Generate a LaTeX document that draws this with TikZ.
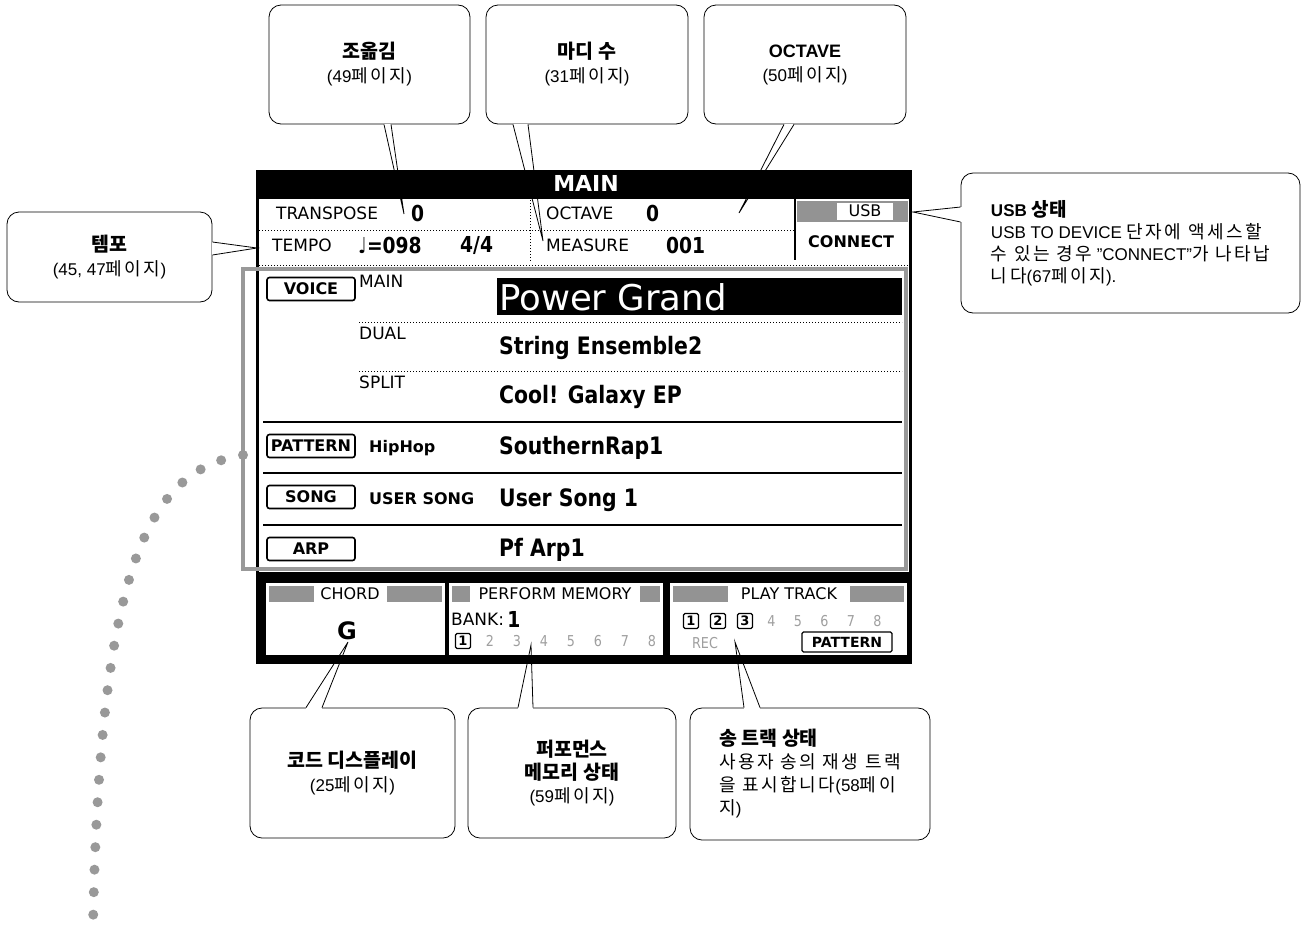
\documentclass[tikz,border=0pt]{standalone}
\usepackage{fontspec}
\setmainfont{Liberation Sans}
\newfontfamily\kr[Scale=1.06,LetterSpace=14]{Noto Sans CJK KR}
\newfontfamily\krh{Noto Sans CJK KR}
\newfontfamily\lcd[FakeStretch=0.85]{DejaVu Sans}
\newfontfamily\lcdwide{DejaVu Sans}
\newcommand{\hd}[1]{{\fontsize{19.5}{25}\selectfont\krh\bfseries #1}}
\newcommand{\hg}[1]{{\kr #1}}
\usetikzlibrary{calc,positioning}

\begin{document}
\begin{tikzpicture}[
    x=1pt, y=-1pt,
    callout/.style={draw, line width=0.8pt, rounded corners=12pt, fill=white,
      align=center, inner sep=0pt, font=\fontsize{17}{24}\selectfont},
    callline/.style={draw, line width=0.8pt},
    callgap/.style={draw=white, line width=1.8pt},
    lcdlabel/.style={anchor=west, inner sep=0pt, font=\lcdwide\fontsize{17}{17}\selectfont},
    lcdvalue/.style={anchor=west, inner sep=0pt, font=\lcd\bfseries\fontsize{22}{22}\selectfont},
    lcdtag/.style={anchor=west, inner sep=0pt, font=\lcdwide\bfseries\fontsize{16}{16}\selectfont},
    lcdbutton/.style={draw, line width=1.6pt, rounded corners=2.5pt, minimum width=88pt,
      minimum height=23pt, inner sep=0pt, font=\lcdwide\bfseries\fontsize{16}{16}\selectfont},
    voicename/.style={anchor=west, inner sep=0pt, font=\lcd\bfseries\fontsize{24}{24}\selectfont},
    headlabel/.style={fill=white, inner sep=0pt, minimum height=17pt, font=\lcdwide\fontsize{16}{16}\selectfont},
    dither/.style={fill=gray!85},
    dimdigit/.style={inner sep=0pt, text=gray!75, font=\lcd\fontsize{15}{15}\selectfont},
    boxdigit/.style={draw, line width=1.3pt, rounded corners=1.5pt, minimum size=15pt,
      inner sep=0pt, font=\lcdwide\bfseries\fontsize{13}{13}\selectfont},
    dotline/.style={dotted, line width=1pt},
    rowrule/.style={line width=2pt},
    arcdots/.style={draw=gray!80, line width=10pt, line cap=round, dash pattern=on 0pt off 22.5pt}
  ]
  \useasboundingbox (0,0) rectangle (1305,929);

  % LCD frame and info rows
  \fill[black] (256,170) rectangle (912,664);
  \fill[white] (259,199) rectangle (909,572);
  \node[text=white, inner sep=0pt, font=\lcdwide\bfseries\fontsize{22}{22}\selectfont] (title) at (586,183) {MAIN};
  \draw[dotline] (259,230) -- (795,230);
  \draw[dotline] (530,200) -- (530,262);
  \draw[line width=1.5pt] (795,199) -- (795,260);
  \draw[dotline] (259,265) -- (909,265);
  \fill[dither] (797,201) rectangle (908,222);
  \node[headlabel, minimum width=56pt] (usbHead) at (865,211) {USB};
  \node[lcdtag] (connect) at (808,242) {CONNECT};
  \node[lcdlabel] (transposeLbl) at (276,213) {TRANSPOSE};
  \node[lcdvalue] (transposeVal) at (411,213) {0};
  \node[lcdlabel] (tempoLbl) at (272,245) {TEMPO};
  \node[lcdvalue] (tempoVal) at (358,245) {♩=098};
  \node[lcdvalue] (meterVal) at (460,245) {4/4};
  \node[lcdlabel] (octaveLbl) at (546,213) {OCTAVE};
  \node[lcdvalue] (octaveVal) at (646,213) {0};
  \node[lcdlabel] (measureLbl) at (546,245) {MEASURE};
  \node[lcdvalue] (measureVal) at (666,245) {001};

  % voice / pattern / song / arp rows
  \node[lcdbutton] (voiceBtn) at (311,289) {VOICE};
  \node[lcdlabel, anchor=north west] (mainLbl) at (359,275) {MAIN};
  \fill (497,278) rectangle (902,315);
  \node[anchor=west, inner sep=0pt, text=white, font=\lcdwide\fontsize{35.5}{35.5}\selectfont] (mainVoice) at (499,297) {Power Grand};
  \draw[dotline] (359,322) -- (902,322);
  \node[lcdlabel, anchor=north west] (dualLbl) at (359,327) {DUAL};
  \node[voicename] (dualVoice) at (499,348) {String Ensemble2};
  \draw[dotline] (359,371) -- (902,371);
  \node[lcdlabel, anchor=north west] (splitLbl) at (359,376) {SPLIT};
  \node[voicename] (splitVoice) at (499,397) {Cool! Galaxy EP};
  \draw[rowrule] (263,422) -- (902,422);
  \node[lcdbutton] (patternBtn) at (311,446) {PATTERN};
  \node[lcdtag] (styleName) at (369,448) {HipHop};
  \node[voicename] (patternName) at (499,448) {SouthernRap1};
  \draw[rowrule] (263,473) -- (902,473);
  \node[lcdbutton] (songBtn) at (311,497) {SONG};
  \node[lcdtag] (songBank) at (369,499) {USER SONG};
  \node[voicename] (songName) at (499,500) {User Song 1};
  \draw[rowrule] (263,525) -- (902,525);
  \node[lcdbutton] (arpBtn) at (311,549) {ARP};
  \node[voicename] (arpName) at (499,550) {Pf Arp1};
  \draw[draw=gray!80, line width=4pt] (243,269) rectangle (906,569);

  % chord / perform memory / play track
  \fill[white] (266,583) rectangle (445,655);
  \fill[white] (449,583) rectangle (663,655);
  \fill[white] (670,583) rectangle (907,655);
  \fill[dither] (269,586) rectangle (442,602);
  \fill[dither] (452,586) rectangle (660,602);
  \fill[dither] (673,586) rectangle (904,602);
  \node[headlabel, minimum width=73pt] (chordHead) at (350,594) {CHORD};
  \node[headlabel, minimum width=170pt] (memHead) at (555,594) {PERFORM MEMORY};
  \node[headlabel, minimum width=122pt] (trackHead) at (789,594) {PLAY TRACK};
  \node[inner sep=0pt, font=\lcdwide\bfseries\fontsize{24}{24}\selectfont] (chordName) at (347,631) {G};
  \node[lcdlabel] (bankLbl) at (451,619) {BANK:};
  \node[lcdvalue, right=3pt of bankLbl] (bankNo) {1};
  \node[boxdigit] (mem1) at (463,641) {1};
  \foreach \d in {2,...,8}
    \node[dimdigit] (mem\d) at (463+27*\d-27,641) {\d};
  \foreach \d in {1,2,3}
    \node[boxdigit] (track\d) at (664+27*\d,621) {\d};
  \foreach \d in {4,...,8}
    \node[dimdigit] (track\d) at (745+26.5*\d-79.5,621) {\d};
  \node[dimdigit] (rec) at (705,643) {REC};
  \node[boxdigit, minimum width=90pt, minimum height=20pt, font=\lcdwide\bfseries\fontsize{14}{14}\selectfont] (trackMode) at (847,642) {PATTERN};

  % dotted arc to the panel
  \draw[arcdots] (243,455) .. controls (150,470) and (100,560) .. (93,926);

  % callouts
  \node[callout, minimum width=201pt, minimum height=119pt] (transpose) at (369.5,64.5)
    {\hd{조옮김}\\(49\hg{페이지})};
  \node[callout, minimum width=202pt, minimum height=119pt] (measure) at (587,64.5)
    {\hd{마디 수}\\(31\hg{페이지})};
  \node[callout, minimum width=202pt, minimum height=119pt] (octave) at (805,64.5)
    {{\fontsize{18}{24}\selectfont\bfseries OCTAVE}\\(50\hg{페이지})};
  \node[callout, minimum width=205pt, minimum height=90pt] (tempo) at (109.5,257)
    {\hd{템포}\\(45, 47\hg{페이지})};
  \node[callout, align=left, minimum width=339pt, minimum height=140pt,
    font=\fontsize{17}{22}\selectfont] (usb) at (1130.5,243)
    {{\fontsize{17}{22}\selectfont\bfseries USB {\krh\fontsize{19}{22}\selectfont 상태}}\\
     USB TO DEVICE \hg{단자에 액세스할}\\
     \hg{수 있는 경우} "CONNECT"\hg{가 나타납}\\
     \hg{니다}(67\hg{페이지}).};
  \node[callout, minimum width=205pt, minimum height=130pt] (chord) at (352.5,773)
    {\hd{코드 디스플레이}\\(25\hg{페이지})};
  \node[callout, minimum width=208pt, minimum height=130pt, font=\fontsize{17}{23}\selectfont] (perform) at (572,773)
    {\hd{퍼포먼스}\\\hd{메모리 상태}\\(59\hg{페이지})};
  \node[callout, align=left, minimum width=240pt, minimum height=132pt,
    font=\fontsize{17}{23}\selectfont] (song) at (810,774)
    {\hd{송 트랙 상태}\\
     \hg{사용자 송의 재생 트랙}\\
     \hg{을 표시합니다}(58\hg{페이}\\
     \hg{지})};

  % pointers
  \coordinate (transposeTip) at (404,214);
  \coordinate (measureTip) at (543,241);
  \coordinate (octaveTip) at (739,213);
  \coordinate (tempoTip) at (257,248);
  \coordinate (usbTip) at (913,212);
  \coordinate (chordTip) at (348,642);
  \coordinate (performTip) at (531,645);
  \coordinate (songTip) at (735,642);
  \draw[callgap] ($(transpose.south)+(14.5,0)$) -- ($(transpose.south)+(21.5,0)$);
  \draw[callline] ($(transpose.south)+(14.5,0)$) -- (transposeTip) -- ($(transpose.south)+(21.5,0)$);
  \draw[callgap] ($(measure.south)+(-74,0)$) -- ($(measure.south)+(-59,0)$);
  \draw[callline] ($(measure.south)+(-74,0)$) -- (measureTip) -- ($(measure.south)+(-59,0)$);
  \draw[callgap] ($(octave.south)+(-21,0)$) -- ($(octave.south)+(-11,0)$);
  \draw[callline] ($(octave.south)+(-21,0)$) -- (octaveTip) -- ($(octave.south)+(-11,0)$);
  \draw[callgap] ($(tempo.east)+(0,-15)$) -- ($(tempo.east)+(0,-2)$);
  \draw[callline] ($(tempo.east)+(0,-15)$) -- (tempoTip) -- ($(tempo.east)+(0,-2)$);
  \draw[callgap] ($(usb.west)+(0,-36)$) -- ($(usb.west)+(0,-21)$);
  \draw[callline] ($(usb.west)+(0,-36)$) -- (usbTip) -- ($(usb.west)+(0,-21)$);
  \draw[callgap] ($(chord.north)+(-46.5,0)$) -- ($(chord.north)+(-30.5,0)$);
  \draw[callline] ($(chord.north)+(-46.5,0)$) -- (chordTip) -- ($(chord.north)+(-30.5,0)$);
  \draw[callgap] ($(perform.north)+(-54,0)$) -- ($(perform.north)+(-39,0)$);
  \draw[callline] ($(perform.north)+(-54,0)$) -- (performTip) -- ($(perform.north)+(-39,0)$);
  \draw[callgap] ($(song.north)+(-66,0)$) -- ($(song.north)+(-50,0)$);
  \draw[callline] ($(song.north)+(-66,0)$) -- (songTip) -- ($(song.north)+(-50,0)$);
\end{tikzpicture}
\end{document}
